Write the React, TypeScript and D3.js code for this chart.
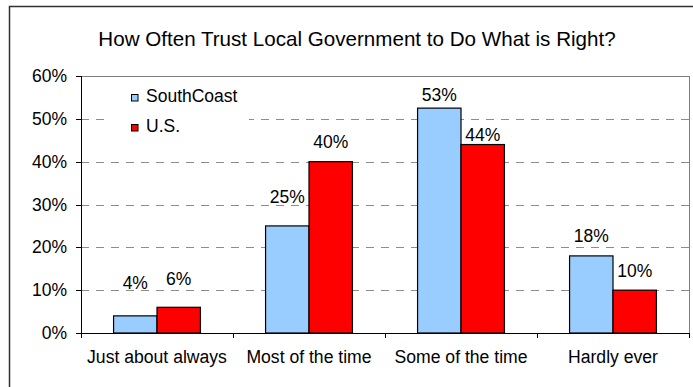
import React from "react";
import * as d3 from "d3";

const categories = ["Just about always", "Most of the time", "Some of the time", "Hardly ever"];
const seriesNames = ["SouthCoast", "U.S."];
const southCoast = [0.04, 0.25, 0.525, 0.18];
const us = [0.06, 0.40, 0.44, 0.10];
const yTicks = [0, 0.1, 0.2, 0.3, 0.4, 0.5, 0.6];
const title = "How Often Trust Local Government to Do What is Right?";

// label lift above bar top (px), styling only
const labelLift = [
  [27, 23, 7, 14],
  [22, 14, 4, 13],
];
const colors = ["#99CCFF", "#FF0000"];

const W = 693, H = 387;
const plot = { left: 81, right: 689, top: 76, bottom: 333 };
const FONT = "'Liberation Sans', Arial, sans-serif";

export default function App() {
  const y = d3.scaleLinear().domain([0, 0.6]).range([plot.bottom, plot.top]);
  const x0 = d3.scaleBand<string>().domain(categories).range([plot.left, plot.right]).paddingInner(0).paddingOuter(0);
  const x1 = d3.scaleBand<string>().domain(seriesNames).range([0, x0.bandwidth()]).paddingInner(0).paddingOuter(0.75);
  const data = [southCoast, us];
  const fmt = (v: number) => `${Math.round(v * 100)}%`;

  return (
    <div style={{ position: "absolute", left: 0, top: 0 }}>
      <svg width={W} height={H} style={{ display: "block", background: "#fff" }} fontFamily={FONT}>
        {/* outer chart border (clipped) */}
        <rect x={9.5} y={6.5} width={W + 20} height={H + 20} fill="#fff" stroke="#333" strokeWidth={1.5} />
        <text x={357} y={46} textAnchor="middle" fontSize={20.6} fill="#000">{title}</text>

        {/* gridlines */}
        {yTicks.filter((t) => t > 0 && t < 0.6).map((t) => (
          <line key={t} x1={plot.left} x2={plot.right} y1={Math.round(y(t)) + 0.5} y2={Math.round(y(t)) + 0.5}
            stroke="#8c8c8c" strokeWidth={1} strokeDasharray="8,7" />
        ))}
        {/* plot area top/right border */}
        <line x1={plot.left} x2={plot.right} y1={plot.top + 0.5} y2={plot.top + 0.5} stroke="#808080" />
        <line x1={plot.right + 0.5} x2={plot.right + 0.5} y1={plot.top} y2={plot.bottom} stroke="#808080" />

        {/* bars */}
        {data.map((series, si) =>
          series.map((v, ci) => {
            const bx = (x0(categories[ci]) as number) + (x1(seriesNames[si]) as number);
            const by = y(v);
            return (
              <rect key={`${si}-${ci}`} x={bx} y={by} width={x1.bandwidth()} height={plot.bottom - by}
                fill={colors[si]} stroke="#000" strokeWidth={1.2} />
            );
          })
        )}
        {/* value labels */}
        {data.map((series, si) =>
          series.map((v, ci) => {
            const bx = (x0(categories[ci]) as number) + (x1(seriesNames[si]) as number) + x1.bandwidth() / 2;
            return (
              <text key={`l-${si}-${ci}`} x={bx} y={y(v) - labelLift[si][ci]} textAnchor="middle" fontSize={17.5} fill="#000">
                {fmt(v)}
              </text>
            );
          })
        )}

        {/* y axis */}
        <line x1={plot.left + 0.5} x2={plot.left + 0.5} y1={plot.top} y2={plot.bottom + 5} stroke="#000" />
        {yTicks.map((t) => (
          <g key={`yt-${t}`}>
            <line x1={plot.left - 5} x2={plot.left} y1={Math.round(y(t)) + 0.5} y2={Math.round(y(t)) + 0.5} stroke="#000" />
            <text x={67} y={y(t) + 6} textAnchor="end" fontSize={17.5} fill="#000">{fmt(t)}</text>
          </g>
        ))}
        {/* x axis */}
        <line x1={plot.left} x2={plot.right + 1} y1={plot.bottom + 0.5} y2={plot.bottom + 0.5} stroke="#000" />
        {categories.map((c) => (
          <g key={c}>
            <line x1={(x0(c) as number) + x0.bandwidth() + 0.5} x2={(x0(c) as number) + x0.bandwidth() + 0.5}
              y1={plot.bottom} y2={plot.bottom + 5} stroke="#000" />
            <text x={(x0(c) as number) + x0.bandwidth() / 2} y={363} textAnchor="middle" fontSize={17.6} fill="#000">{c}</text>
          </g>
        ))}

        {/* legend */}
        <rect x={110} y={84} width={139} height={56} fill="#fff" />
        {seriesNames.map((s, i) => (
          <g key={s}>
            <rect x={131.5} y={94.5 + i * 30} width={6.5} height={6.5} fill={colors[i]} stroke="#000" strokeWidth={1} />
            <text x={146} y={102 + i * 30} fontSize={17.5} fill="#000">{s}</text>
          </g>
        ))}
      </svg>
    </div>
  );
}
